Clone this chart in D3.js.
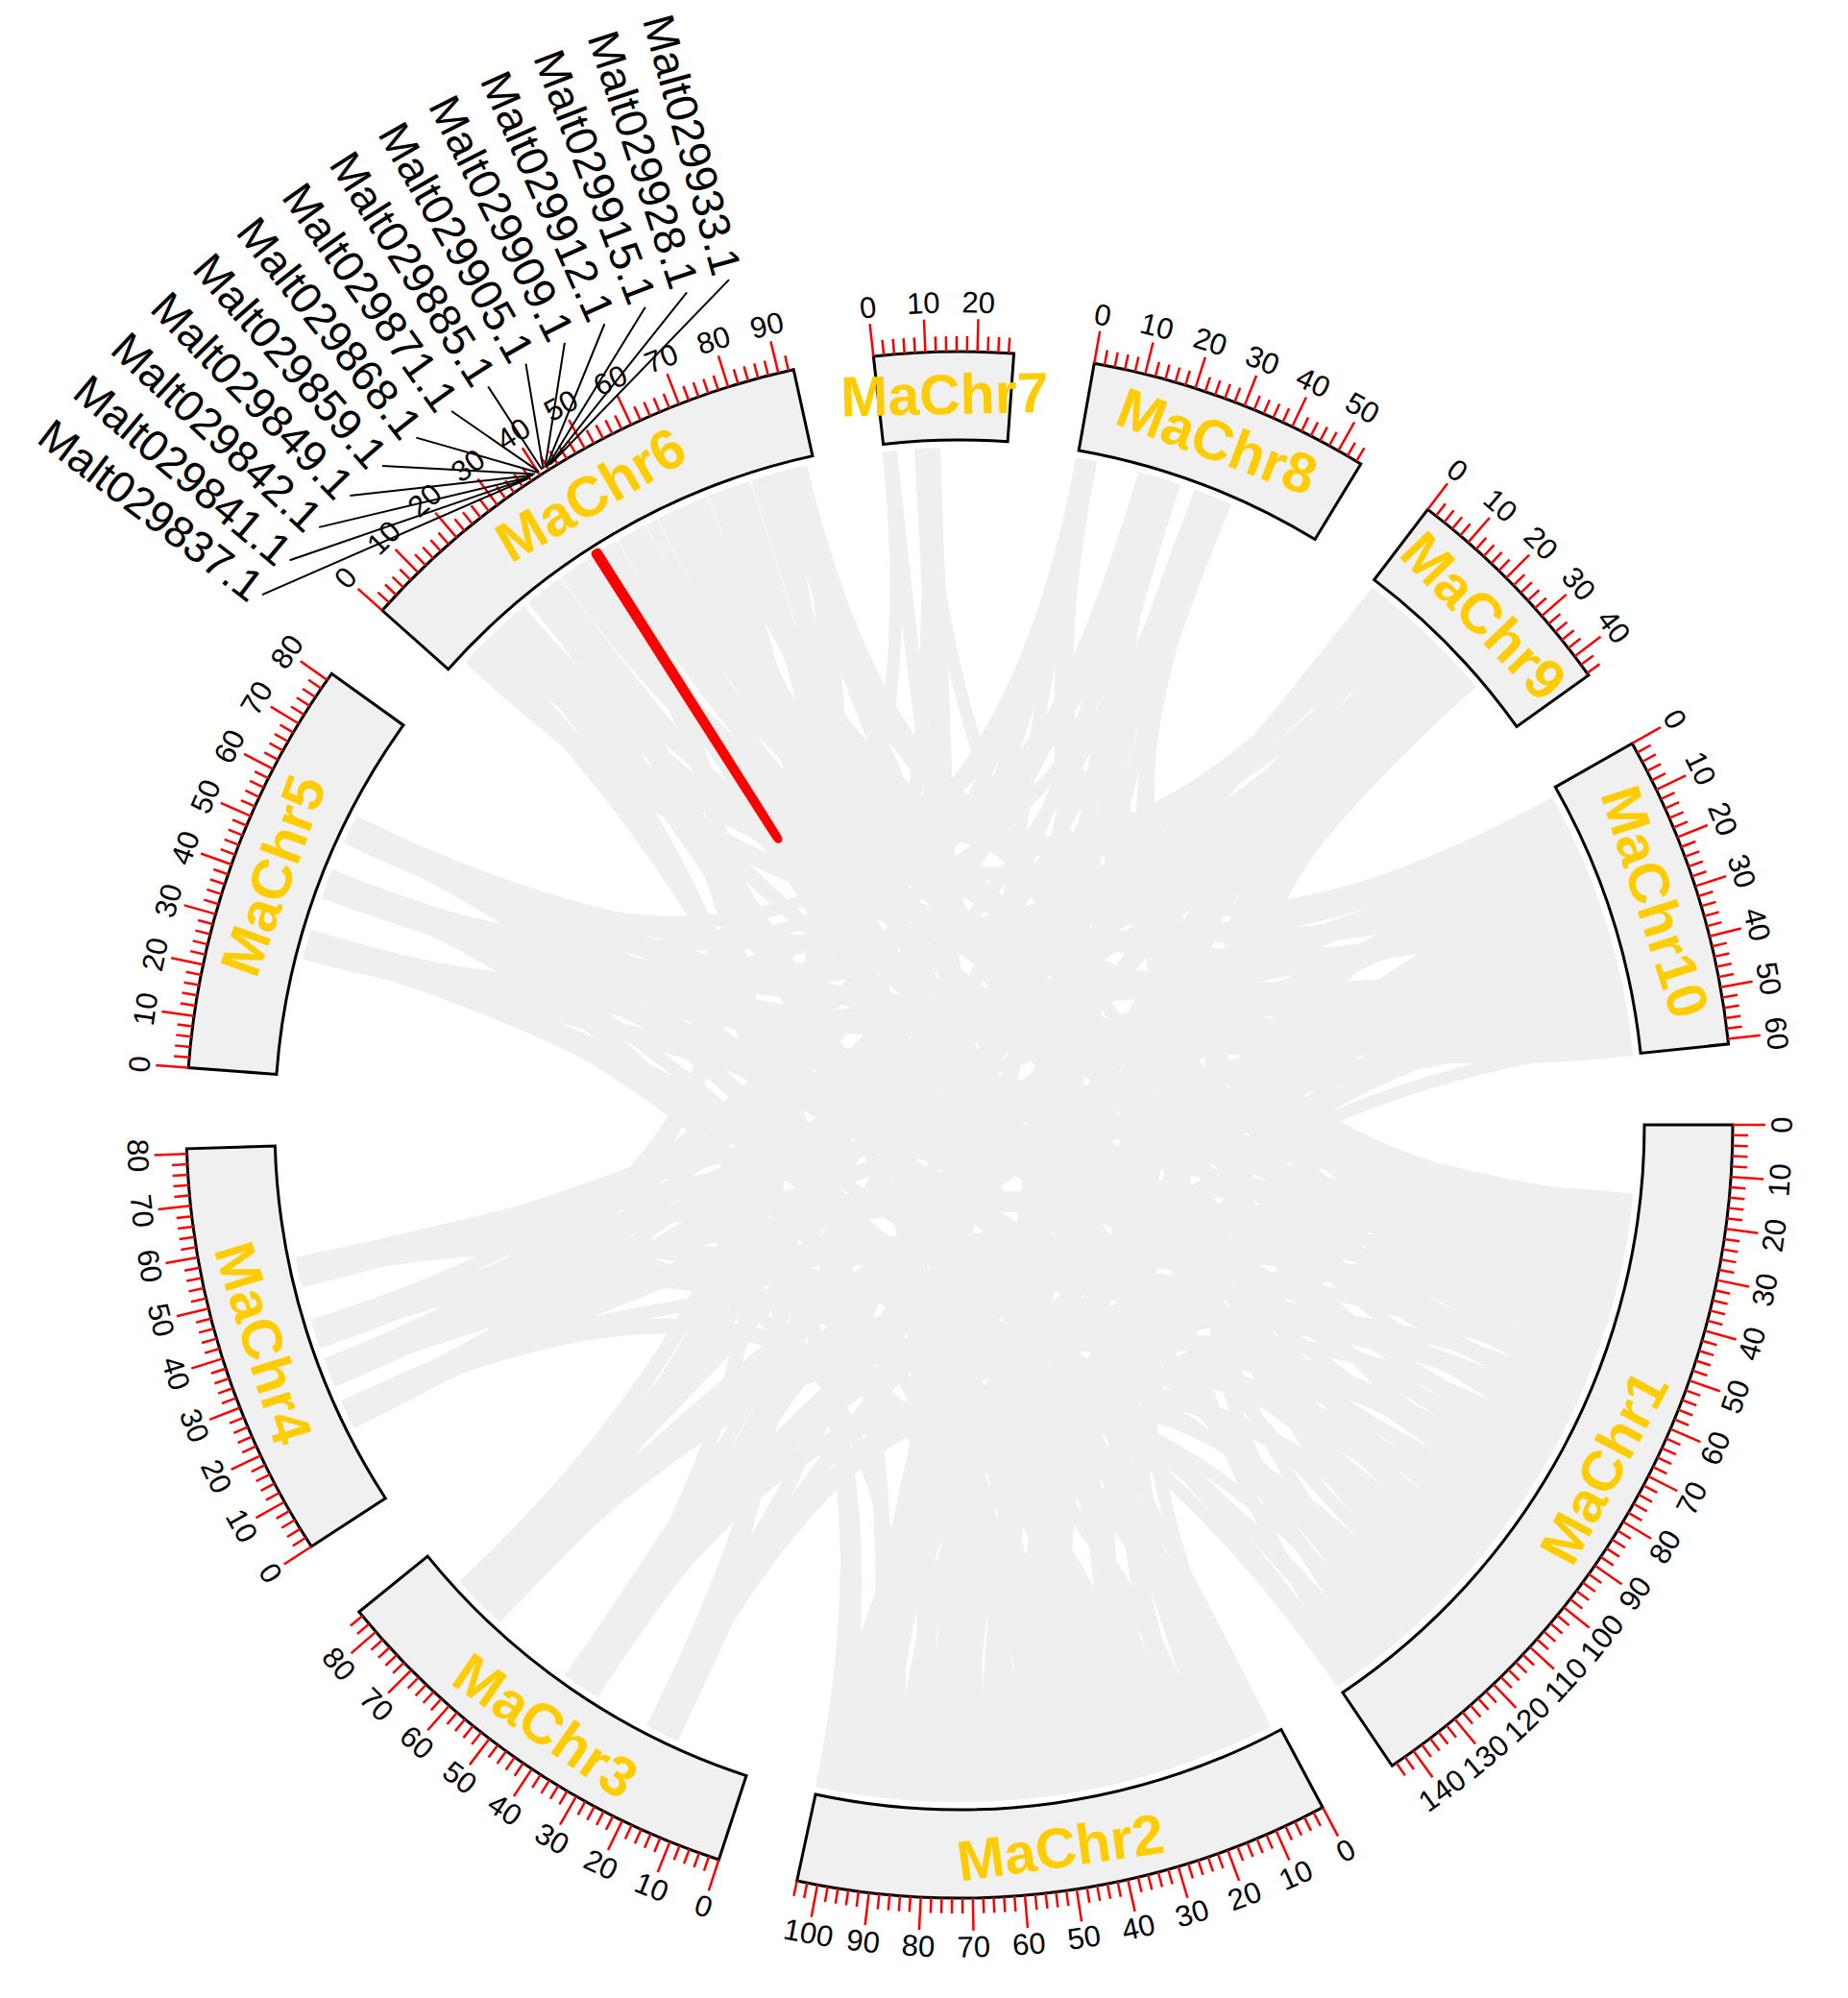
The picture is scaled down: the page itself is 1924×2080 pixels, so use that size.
<!DOCTYPE html>
<html>
<head>
<meta charset="utf-8">
<script src="https://cdn.jsdelivr.net/npm/d3@7"></script>
<style>
  body { margin: 0; background: #fff; }
  text { font-family: "Liberation Sans", Arial, sans-serif; }
</style>
</head>
<body>
<svg id="chart" width="1924" height="2080"></svg>
<script>
// chromosome sizes in Mb
var chromosomes = ["MaChr1", "MaChr2", "MaChr3", "MaChr4", "MaChr5", "MaChr6", "MaChr7", "MaChr8", "MaChr9", "MaChr10"];
var chrLengths = [145, 104, 85, 81, 81.5, 93, 27, 55, 44.5, 61];

// duplicated gene pairs: [chr, Mb, chr, Mb]
var links = [
  ["MaChr1", 18.5, "MaChr9", 20], ["MaChr1", 19.5, "MaChr6", 44], ["MaChr1", 21.5, "MaChr4", 38],
  ["MaChr1", 16.5, "MaChr3", 42], ["MaChr1", 17, "MaChr2", 48], ["MaChr1", 18, "MaChr6", 60],
  ["MaChr1", 20, "MaChr2", 30], ["MaChr1", 23, "MaChr10", 28], ["MaChr1", 26, "MaChr5", 44],
  ["MaChr1", 27, "MaChr3", 70], ["MaChr1", 29, "MaChr8", 18], ["MaChr1", 32, "MaChr4", 53],
  ["MaChr1", 35, "MaChr6", 35], ["MaChr1", 36, "MaChr9", 24], ["MaChr1", 38, "MaChr3", 66],
  ["MaChr1", 41, "MaChr2", 55], ["MaChr1", 44, "MaChr9", 30], ["MaChr1", 47, "MaChr5", 29],
  ["MaChr1", 48, "MaChr4", 31], ["MaChr1", 50, "MaChr7", 9], ["MaChr1", 53, "MaChr6", 74],
  ["MaChr1", 56, "MaChr4", 29], ["MaChr1", 58, "MaChr8", 32], ["MaChr1", 60, "MaChr2", 80],
  ["MaChr1", 63, "MaChr10", 45], ["MaChr1", 66, "MaChr3", 20], ["MaChr1", 68, "MaChr5", 42],
  ["MaChr1", 70, "MaChr8", 33], ["MaChr1", 74, "MaChr6", 14], ["MaChr1", 76, "MaChr10", 50],
  ["MaChr1", 78, "MaChr5", 56], ["MaChr1", 82, "MaChr2", 12], ["MaChr1", 86, "MaChr9", 19],
  ["MaChr1", 88, "MaChr6", 30], ["MaChr1", 90, "MaChr4", 20], ["MaChr1", 94, "MaChr3", 72],
  ["MaChr1", 96, "MaChr2", 70], ["MaChr1", 98, "MaChr6", 88], ["MaChr1", 102, "MaChr10", 21],
  ["MaChr1", 106, "MaChr5", 43], ["MaChr1", 108, "MaChr3", 21], ["MaChr1", 110, "MaChr2", 95],
  ["MaChr1", 114, "MaChr8", 2], ["MaChr1", 116, "MaChr9", 27], ["MaChr1", 118, "MaChr6", 50],
  ["MaChr1", 122, "MaChr4", 40], ["MaChr1", 124, "MaChr5", 57], ["MaChr1", 126, "MaChr9", 8],
  ["MaChr1", 130, "MaChr3", 40], ["MaChr1", 132, "MaChr6", 66], ["MaChr1", 134, "MaChr10", 33],
  ["MaChr1", 138, "MaChr2", 65], ["MaChr1", 142, "MaChr5", 30],
  ["MaChr1", 17.5, "MaChr6", 45], ["MaChr1", 19, "MaChr5", 43], ["MaChr1", 21, "MaChr4", 39],
  ["MaChr1", 22, "MaChr3", 41], ["MaChr1", 24, "MaChr9", 22], ["MaChr1", 25, "MaChr2", 50],
  ["MaChr1", 28, "MaChr6", 58], ["MaChr1", 30, "MaChr10", 30], ["MaChr1", 31, "MaChr5", 29],
  ["MaChr1", 33, "MaChr3", 68], ["MaChr1", 34, "MaChr8", 19], ["MaChr1", 37, "MaChr4", 52],
  ["MaChr1", 40, "MaChr6", 37], ["MaChr1", 43, "MaChr2", 57], ["MaChr1", 46, "MaChr9", 28],
  ["MaChr1", 52, "MaChr3", 22], ["MaChr1", 55, "MaChr5", 56], ["MaChr1", 62, "MaChr6", 72],
  ["MaChr1", 65, "MaChr4", 30], ["MaChr1", 72, "MaChr2", 78], ["MaChr1", 80, "MaChr6", 16],
  ["MaChr1", 84, "MaChr3", 71], ["MaChr1", 92, "MaChr5", 44], ["MaChr1", 100, "MaChr4", 21],
  ["MaChr1", 104, "MaChr6", 86], ["MaChr1", 112, "MaChr10", 23], ["MaChr1", 120, "MaChr2", 92],
  ["MaChr1", 128, "MaChr6", 48], ["MaChr1", 136, "MaChr3", 39], ["MaChr1", 140, "MaChr9", 10],
  ["MaChr1", 144, "MaChr4", 53],
  ["MaChr2", 3, "MaChr6", 40], ["MaChr2", 5, "MaChr4", 39], ["MaChr2", 7, "MaChr9", 25],
  ["MaChr2", 10, "MaChr5", 28], ["MaChr2", 12, "MaChr6", 52], ["MaChr2", 15, "MaChr8", 19],
  ["MaChr2", 18, "MaChr4", 54], ["MaChr2", 20, "MaChr9", 29], ["MaChr2", 22, "MaChr10", 10],
  ["MaChr2", 25, "MaChr6", 80], ["MaChr2", 28, "MaChr3", 41], ["MaChr2", 30, "MaChr8", 34],
  ["MaChr2", 33, "MaChr9", 31], ["MaChr2", 36, "MaChr5", 55], ["MaChr2", 38, "MaChr5", 45],
  ["MaChr2", 40, "MaChr7", 1], ["MaChr2", 43, "MaChr8", 22], ["MaChr2", 46, "MaChr4", 21],
  ["MaChr2", 49, "MaChr6", 20], ["MaChr2", 52, "MaChr10", 50], ["MaChr2", 55, "MaChr6", 26],
  ["MaChr2", 58, "MaChr5", 31], ["MaChr2", 61, "MaChr8", 30], ["MaChr2", 64, "MaChr9", 17],
  ["MaChr2", 66, "MaChr10", 29], ["MaChr2", 68, "MaChr7", 11], ["MaChr2", 71, "MaChr6", 65],
  ["MaChr2", 74, "MaChr7", 8], ["MaChr2", 77, "MaChr8", 17], ["MaChr2", 80, "MaChr6", 77],
  ["MaChr2", 84, "MaChr10", 38], ["MaChr2", 87, "MaChr4", 52], ["MaChr2", 90, "MaChr9", 14],
  ["MaChr2", 93, "MaChr6", 8], ["MaChr2", 95, "MaChr9", 22], ["MaChr2", 97, "MaChr8", 28],
  ["MaChr2", 100, "MaChr5", 43], ["MaChr2", 102, "MaChr10", 58],
  ["MaChr2", 4, "MaChr5", 30], ["MaChr2", 9, "MaChr6", 42], ["MaChr2", 14, "MaChr9", 26],
  ["MaChr2", 17, "MaChr4", 40], ["MaChr2", 24, "MaChr6", 82], ["MaChr2", 27, "MaChr8", 20],
  ["MaChr2", 32, "MaChr5", 57], ["MaChr2", 35, "MaChr6", 24], ["MaChr2", 42, "MaChr7", 1.5],
  ["MaChr2", 45, "MaChr10", 48], ["MaChr2", 48, "MaChr6", 18], ["MaChr2", 51, "MaChr9", 30],
  ["MaChr2", 54, "MaChr4", 20], ["MaChr2", 57, "MaChr8", 31], ["MaChr2", 60, "MaChr6", 63],
  ["MaChr2", 63, "MaChr10", 27], ["MaChr2", 70, "MaChr7", 9.5], ["MaChr2", 73, "MaChr6", 67],
  ["MaChr2", 76, "MaChr8", 16], ["MaChr2", 79, "MaChr9", 15], ["MaChr2", 82, "MaChr6", 75],
  ["MaChr2", 86, "MaChr10", 36], ["MaChr2", 89, "MaChr8", 2], ["MaChr2", 92, "MaChr6", 10],
  ["MaChr2", 99, "MaChr9", 20], ["MaChr2", 103, "MaChr5", 45],
  ["MaChr3", 18, "MaChr8", 33], ["MaChr3", 19, "MaChr6", 16], ["MaChr3", 21, "MaChr10", 25],
  ["MaChr3", 22, "MaChr9", 10], ["MaChr3", 23, "MaChr6", 70], ["MaChr3", 38, "MaChr10", 40],
  ["MaChr3", 39, "MaChr8", 20], ["MaChr3", 41, "MaChr6", 28], ["MaChr3", 42, "MaChr10", 47],
  ["MaChr3", 43, "MaChr9", 18], ["MaChr3", 65, "MaChr10", 15], ["MaChr3", 67, "MaChr8", 1],
  ["MaChr3", 69, "MaChr6", 90], ["MaChr3", 71, "MaChr9", 2], ["MaChr3", 73, "MaChr8", 3],
  ["MaChr3", 75, "MaChr6", 82],
  ["MaChr3", 20, "MaChr6", 14], ["MaChr3", 20.5, "MaChr10", 33], ["MaChr3", 40, "MaChr9", 16],
  ["MaChr3", 40.5, "MaChr6", 30], ["MaChr3", 44, "MaChr8", 21], ["MaChr3", 66, "MaChr6", 88],
  ["MaChr3", 68, "MaChr10", 13], ["MaChr3", 70, "MaChr9", 4], ["MaChr3", 72, "MaChr8", 33],
  ["MaChr3", 74, "MaChr6", 84],
  ["MaChr4", 19, "MaChr10", 55], ["MaChr4", 20, "MaChr9", 3], ["MaChr4", 21, "MaChr8", 30],
  ["MaChr4", 29, "MaChr10", 30], ["MaChr4", 30, "MaChr8", 15], ["MaChr4", 32, "MaChr6", 40],
  ["MaChr4", 38, "MaChr9", 28], ["MaChr4", 40, "MaChr10", 18], ["MaChr4", 41, "MaChr8", 2],
  ["MaChr4", 52, "MaChr10", 47], ["MaChr4", 53, "MaChr9", 21], ["MaChr4", 55, "MaChr10", 9],
  ["MaChr4", 18, "MaChr9", 5], ["MaChr4", 22, "MaChr10", 53], ["MaChr4", 28, "MaChr6", 42],
  ["MaChr4", 31, "MaChr10", 31], ["MaChr4", 37, "MaChr8", 18], ["MaChr4", 39, "MaChr10", 20],
  ["MaChr4", 51, "MaChr9", 23], ["MaChr4", 54, "MaChr10", 45],
  ["MaChr5", 28, "MaChr10", 12], ["MaChr5", 29, "MaChr9", 16], ["MaChr5", 30, "MaChr8", 32],
  ["MaChr5", 31, "MaChr10", 35], ["MaChr5", 42, "MaChr9", 30], ["MaChr5", 43, "MaChr10", 52],
  ["MaChr5", 44, "MaChr8", 20], ["MaChr5", 45, "MaChr10", 22], ["MaChr5", 55, "MaChr8", 1],
  ["MaChr5", 56, "MaChr9", 26], ["MaChr5", 57, "MaChr10", 44],
  ["MaChr5", 27, "MaChr10", 10], ["MaChr5", 30.5, "MaChr9", 18], ["MaChr5", 41, "MaChr10", 50],
  ["MaChr5", 44.5, "MaChr8", 22], ["MaChr5", 54, "MaChr10", 46], ["MaChr5", 58, "MaChr9", 24],
  ["MaChr6", 5, "MaChr10", 8], ["MaChr6", 12, "MaChr9", 12], ["MaChr6", 18, "MaChr10", 42],
  ["MaChr6", 25, "MaChr10", 36], ["MaChr6", 33, "MaChr8", 18], ["MaChr6", 37, "MaChr9", 31],
  ["MaChr6", 48, "MaChr10", 26], ["MaChr6", 55, "MaChr8", 2], ["MaChr6", 58, "MaChr9", 6],
  ["MaChr6", 62, "MaChr10", 60], ["MaChr6", 72, "MaChr9", 20], ["MaChr6", 85, "MaChr10", 16],
  ["MaChr6", 7, "MaChr10", 6], ["MaChr6", 20, "MaChr10", 40], ["MaChr6", 35, "MaChr9", 29],
  ["MaChr6", 52, "MaChr10", 24], ["MaChr6", 60, "MaChr9", 8], ["MaChr6", 70, "MaChr10", 58],
  ["MaChr6", 88, "MaChr10", 18], ["MaChr6", 90, "MaChr9", 21],
  ["MaChr7", 1, "MaChr4", 20], ["MaChr7", 9, "MaChr3", 40],
  ["MaChr8", 1, "MaChr10", 5], ["MaChr8", 21, "MaChr10", 57], ["MaChr9", 24, "MaChr10", 20],
  ["MaChr8", 3, "MaChr10", 3], ["MaChr8", 33, "MaChr10", 55]
];

// tandem pair shown in red
var highlightLink = ["MaChr6", 40.9, "MaChr6", 41.4];

// labelled genes on MaChr6
var geneNames = ["Malt029837.1", "Malt029841.1", "Malt029842.1", "Malt029849.1", "Malt029859.1",
  "Malt029868.1", "Malt029871.1", "Malt029885.1", "Malt029905.1", "Malt029909.1",
  "Malt029912.1", "Malt029915.1", "Malt029928.1", "Malt029933.1"];
var genePositions = [37.6, 38.0, 38.3, 38.9, 39.3, 39.9, 40.2, 40.9, 41.2, 41.6, 41.9, 42.2, 42.6, 42.9];

var cx = 999, cy = 1171;
var rIn = 713, rOut = 805;
var gapDeg = 6;

var svg = d3.select('#chart');
var g = svg.append('g').attr('transform', 'translate(' + cx + ',' + cy + ')');

var degPerMb = (360 - gapDeg * chromosomes.length) / d3.sum(chrLengths);
var scales = {};
var start = 0;
chromosomes.forEach(function(c, i){
  var end = start + chrLengths[i] * degPerMb;
  scales[c] = d3.scaleLinear().domain([0, chrLengths[i]]).range([start, end]);
  start = end + gapDeg;
});

// angle in degrees, clockwise from 3 o'clock
function xy(deg, r){
  var a = deg * Math.PI / 180;
  return [r * Math.cos(a), r * Math.sin(a)];
}
function rad(deg){ return (deg + 90) * Math.PI / 180; }
// keep text readable: bottom half flipped
function facing(deg){
  deg = (deg % 360 + 360) % 360;
  return deg >= 180 ? deg + 90 : deg - 90;
}

// links
var rLink = rIn - 8;
function linkPath(d){
  var p0 = xy(scales[d[0]](d[1]), rLink);
  var p1 = xy(scales[d[2]](d[3]), rLink);
  var p = d3.path();
  p.moveTo(p0[0], p0[1]);
  p.quadraticCurveTo(0, 0, p1[0], p1[1]);
  return p.toString();
}

g.append('g').selectAll('path').data(links).join('path')
  .attr('d', linkPath)
  .attr('fill', 'none')
  .attr('stroke', '#efefef')
  .attr('stroke-width', 13);

g.append('path').datum(highlightLink)
  .attr('d', linkPath)
  .attr('fill', 'none')
  .attr('stroke', '#ff0000')
  .attr('stroke-width', 9)
  .attr('stroke-linecap', 'round');

// chromosome boxes
var arc = d3.arc().innerRadius(rIn).outerRadius(rOut);
var sectors = g.append('g').selectAll('g').data(chromosomes).join('g');

sectors.append('path')
  .attr('d', function(c){
    var r = scales[c].range();
    return arc({startAngle: rad(r[0]), endAngle: rad(r[1])});
  })
  .attr('fill', '#f0f0f0')
  .attr('stroke', '#000')
  .attr('stroke-width', 3);

// ticks every 2 Mb, major every 10
sectors.each(function(c, i){
  var s = scales[c];
  var sel = d3.select(this);
  var minor = d3.range(0, chrLengths[i] + 0.001, 2);
  sel.selectAll('line.tick').data(minor).join('line')
    .attr('class', 'tick')
    .each(function(v){
      var a = s(v);
      var len = v % 10 === 0 ? 34 : 16;
      var p0 = xy(a, rOut), p1 = xy(a, rOut + len);
      d3.select(this).attr('x1', p0[0]).attr('y1', p0[1]).attr('x2', p1[0]).attr('y2', p1[1]);
    })
    .attr('stroke', '#ff0000')
    .attr('stroke-width', 2.5);

  var major = d3.range(0, chrLengths[i] + 0.001, 10);
  sel.selectAll('text.tl').data(major).join('text')
    .attr('class', 'tl')
    .attr('transform', function(v){
      var a = s(v), p = xy(a, 856);
      return 'translate(' + p[0] + ',' + p[1] + ') rotate(' + facing(a) + ')';
    })
    .attr('text-anchor', 'middle')
    .attr('dominant-baseline', 'central')
    .attr('font-size', 31)
    .attr('fill', '#000')
    .text(function(v){ return v; });

  var mid = d3.mean(s.range());
  var pm = xy(mid, 760);
  sel.append('text')
    .attr('transform', 'translate(' + pm[0] + ',' + pm[1] + ') rotate(' + facing(mid) + ')')
    .attr('text-anchor', 'middle')
    .attr('dominant-baseline', 'central')
    .attr('font-size', 59)
    .attr('font-weight', 'bold')
    .attr('fill', '#ffcc00')
    .text(c);
});

// gene labels on MaChr6
var geneAngles = genePositions.map(scales["MaChr6"]);
var labelSpacing = 2.885;
var labelCenter = d3.mean(geneAngles) - 1.3;
var n = geneNames.length;
function labelAngle(i){ return labelCenter + (i - (n - 1) / 2) * labelSpacing; }

var labels = g.append('g').selectAll('g').data(geneNames).join('g');
labels.append('line')
  .each(function(d, i){
    var p0 = xy(geneAngles[i], rOut + 4), p1 = xy(labelAngle(i), 912);
    d3.select(this).attr('x1', p0[0]).attr('y1', p0[1]).attr('x2', p1[0]).attr('y2', p1[1]);
  })
  .attr('stroke', '#000')
  .attr('stroke-width', 2);

labels.append('text')
  .attr('transform', function(d, i){
    var a = labelAngle(i), p = xy(a, 918);
    return 'translate(' + p[0] + ',' + p[1] + ') rotate(' + (a + 180) + ')';
  })
  .attr('text-anchor', 'end')
  .attr('dominant-baseline', 'central')
  .attr('font-size', 46)
  .attr('fill', '#000')
  .text(function(d){ return d; });
</script>
</body>
</html>
